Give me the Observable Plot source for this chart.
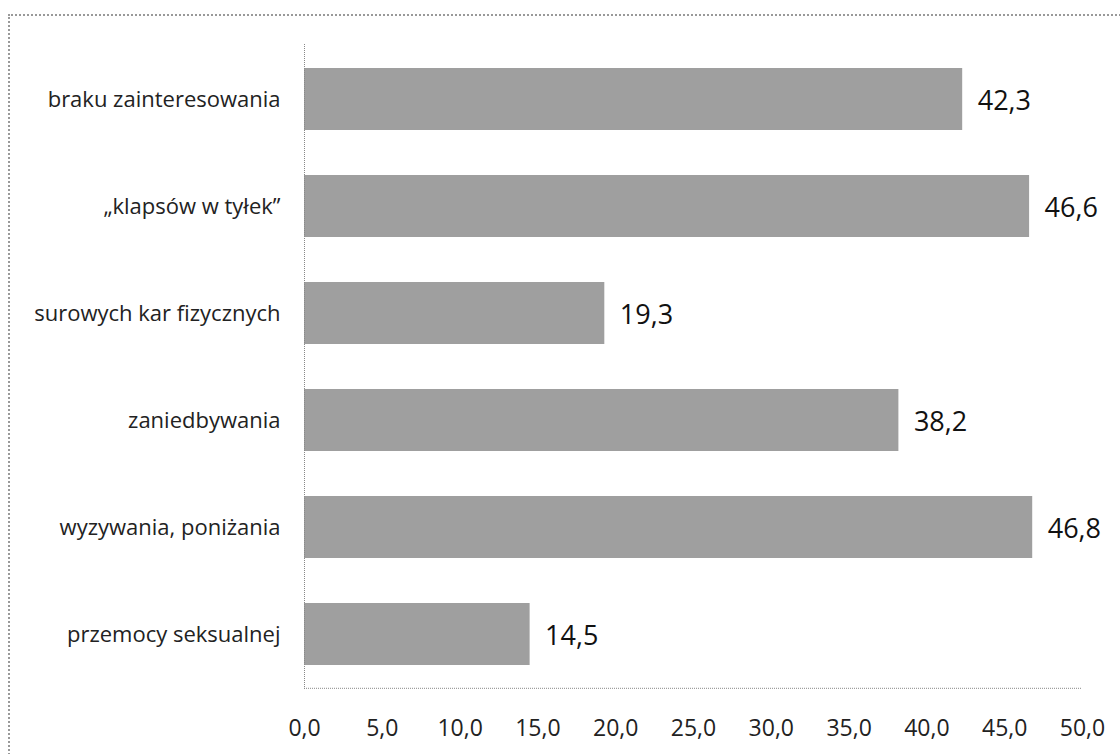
<!DOCTYPE html>
<html>
<head>
<meta charset="utf-8">
<script src="https://cdn.jsdelivr.net/npm/d3@7"></script>
<script src="https://cdn.jsdelivr.net/npm/@observablehq/plot@0.6"></script>
<style>
  html, body { margin: 0; padding: 0; background: #fff; }
  #wrap { position: relative; width: 1120px; height: 754px; overflow: hidden; }
  #border { position: absolute; left: 8px; top: 14px; width: 1200px; height: 800px;
            border-left: 2px dotted #999; border-top: 2px dotted #999; box-sizing: border-box; }
  #chart { position: absolute; left: 0; top: 0; }
</style>
</head>
<body>
<div id="wrap"><div id="border"></div><div id="chart"></div></div>
<script>
const categories = [
  "braku zainteresowania",
  "„klapsów w tyłek”",
  "surowych kar fizycznych",
  "zaniedbywania",
  "wyzywania, poniżania",
  "przemocy seksualnej"
];
const values = [42.3, 46.6, 19.3, 38.2, 46.8, 14.5];
const xTicks = [0, 5, 10, 15, 20, 25, 30, 35, 40, 45, 50];

const data = categories.map((c, i) => ({category: c, value: values[i]}));
const fmt = v => v.toFixed(1).replace(".", ",");

const chart = Plot.plot({
  width: 1120,
  height: 754,
  marginLeft: 304,
  marginRight: 38,
  marginTop: 44,
  marginBottom: 64,
  style: {fontFamily: "'Open Sans', sans-serif", background: "transparent", color: "#222"},
  x: {domain: [0, 50], ticks: xTicks, tickFormat: fmt},
  y: {domain: categories, paddingInner: 0.42, paddingOuter: 0.21},
  marks: [
    Plot.barX(data, {y: "category", x: "value", fill: "#9f9f9f"}),
    Plot.ruleX([0], {stroke: "#888", strokeDasharray: "1,1"}),
    Plot.ruleY([categories[categories.length - 1]], {dy: 53.8, x1: 0, x2: 50, stroke: "#888", strokeDasharray: "1,1"}),
    Plot.text(data, {y: "category", x: "value", text: d => fmt(d.value), textAnchor: "start", dx: 15, dy: 2, fontSize: 27, fill: "#111"}),
    Plot.axisX({ticks: xTicks, tickFormat: fmt, tickSize: 0, tickPadding: 29, fontSize: 23, label: null, fill: "#222"}),
    Plot.axisY({tickSize: 0, tickPadding: 24, fontSize: 22, label: null, fill: "#222"})
  ]
});
document.getElementById("chart").appendChild(chart);
</script>
</body>
</html>
